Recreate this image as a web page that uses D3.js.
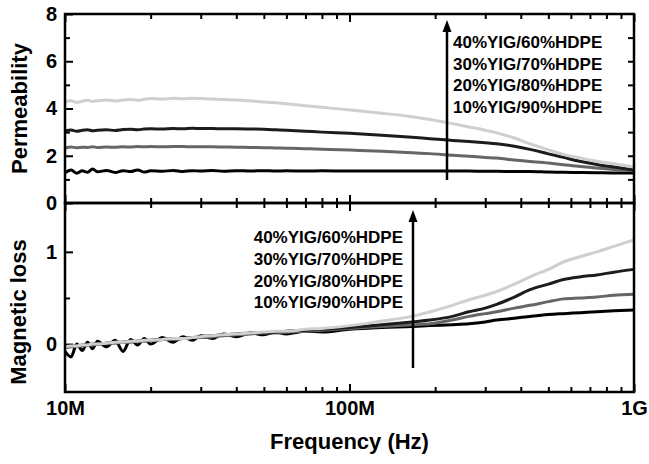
<!DOCTYPE html>
<html>
<head>
<meta charset="utf-8">
<script src="https://cdn.jsdelivr.net/npm/d3@7"></script>
<style>
  body { margin: 0; background: #fff; }
  text { font-family: "Liberation Sans", Arial, sans-serif; font-weight: bold; fill: #000; }
</style>
</head>
<body>
<script>
// frequency grid in MHz (shared by all curves)
const freqMHz = [10,10.5,11,11.5,12,12.5,13,14,15,16, 17,18,19,20,22,24,26,28,30,33,
  36,40,45,50,55,60,70,80,100,130, 166,192,230,263,300,329,380,431,500,565,
  650,740,850,1000];

// permeability (real part)
const mu40 = [4.28,4.33,4.26,4.31,4.35,4.30,4.33,4.36,4.32,4.36, 4.38,4.35,4.39,4.42,4.40,4.43,4.41,4.43,4.42,4.40,
  4.38,4.36,4.32,4.28,4.24,4.20,4.12,4.05,3.94,3.80, 3.65,3.53,3.36,3.22,3.08,2.97,2.75,2.50,2.25,2.06,
  1.90,1.77,1.66,1.52];
const mu30 = [3.05,3.09,3.04,3.08,3.10,3.06,3.08,3.10,3.07,3.11, 3.12,3.10,3.13,3.14,3.13,3.15,3.14,3.16,3.15,3.15,
  3.14,3.14,3.13,3.12,3.10,3.08,3.04,3.00,2.95,2.87, 2.78,2.72,2.65,2.60,2.55,2.51,2.40,2.27,2.08,1.93,
  1.76,1.63,1.52,1.40];
const mu20 = [2.33,2.37,2.34,2.36,2.35,2.38,2.35,2.37,2.36,2.38, 2.37,2.39,2.38,2.39,2.38,2.39,2.39,2.38,2.38,2.38,
  2.37,2.36,2.35,2.34,2.33,2.32,2.30,2.28,2.24,2.19, 2.13,2.09,2.02,1.98,1.93,1.90,1.82,1.76,1.69,1.62,
  1.54,1.48,1.42,1.36];
const mu10 = [1.28,1.40,1.26,1.36,1.30,1.44,1.32,1.38,1.29,1.37, 1.33,1.40,1.31,1.36,1.34,1.38,1.33,1.37,1.35,1.38,
  1.34,1.37,1.35,1.37,1.35,1.36,1.35,1.36,1.35,1.35, 1.35,1.35,1.35,1.35,1.34,1.34,1.33,1.33,1.31,1.30,
  1.29,1.28,1.27,1.27];

// magnetic loss
const loss40 = [-0.03,-0.02,-0.02,-0.01,-0.01,0.00,0.00,0.01,0.02,0.02, 0.03,0.03,0.04,0.04,0.05,0.06,0.06,0.07,0.08,0.09,
  0.10,0.11,0.12,0.13,0.14,0.14,0.16,0.17,0.20,0.25, 0.30,0.35,0.42,0.48,0.53,0.57,0.65,0.73,0.81,0.89,
  0.95,1.00,1.06,1.13];
const loss30 = [-0.03,-0.02,-0.02,-0.01,-0.01,0.00,0.00,0.01,0.02,0.02, 0.03,0.03,0.04,0.04,0.05,0.06,0.06,0.07,0.08,0.09,
  0.10,0.11,0.12,0.12,0.13,0.14,0.15,0.16,0.18,0.21, 0.24,0.26,0.30,0.35,0.39,0.43,0.51,0.59,0.65,0.70,
  0.73,0.75,0.78,0.81];
const loss20 = [-0.04,-0.03,-0.02,-0.02,-0.01,-0.01,0.00,0.01,0.01,0.02, 0.02,0.03,0.03,0.04,0.05,0.05,0.06,0.07,0.07,0.08,
  0.09,0.10,0.11,0.12,0.12,0.13,0.14,0.15,0.17,0.19, 0.21,0.22,0.26,0.30,0.33,0.35,0.39,0.42,0.46,0.49,
  0.50,0.51,0.53,0.54];
const loss10 = [-0.08,-0.14,0.00,-0.07,0.02,-0.05,0.03,-0.03,0.04,-0.08, 0.05,-0.01,0.06,0.00,0.07,0.02,0.08,0.04,0.09,0.06,
  0.11,0.08,0.12,0.10,0.13,0.11,0.14,0.13,0.16,0.18, 0.19,0.20,0.21,0.22,0.24,0.26,0.28,0.30,0.32,0.33,
  0.34,0.35,0.36,0.37];

const labels = ["40%YIG/60%HDPE", "30%YIG/70%HDPE", "20%YIG/80%HDPE", "10%YIG/90%HDPE"];
const xMajor = [1e7, 1e8, 1e9];
const xTickNames = ["10M", "100M", "1G"];

const W = 649, H = 464;
const plotL = 65, plotR = 634, plotT = 14, plotM = 203, plotB = 392;

const svg = d3.select("body").append("svg")
  .attr("width", W).attr("height", H);

const x = d3.scaleLog().domain([1e7, 1e9]).range([plotL, plotR]);
const yTop = d3.scaleLinear().domain([0, 8]).range([plotM, plotT]);
const yBot = d3.scaleLinear().domain([-0.52, 1.53]).range([plotB, plotM]);

const xMinor = [];
[1e7, 1e8].forEach(d => { for (let k = 2; k <= 9; k++) xMinor.push(d * k); });

function styleAxis(g) {
  g.select(".domain").remove();
  g.selectAll(".tick line").attr("stroke", "#000").attr("stroke-width", 2);
  g.selectAll(".tick text").style("font-size", "20px").attr("fill", "#000");
}

// x ticks (inward) on each horizontal edge
function xTicks(y, dir, withLabels) {
  const mk = dir > 0 ? d3.axisBottom : d3.axisTop;
  svg.append("g").attr("transform", `translate(0,${y})`)
    .call(mk(x).tickValues(xMajor).tickSize(-8).tickPadding(9)
      .tickFormat((d, i) => withLabels ? xTickNames[i] : ""))
    .call(styleAxis);
  svg.append("g").attr("transform", `translate(0,${y})`)
    .call(mk(x).tickValues(xMinor).tickSize(-5).tickFormat(""))
    .call(styleAxis);
}
xTicks(plotT, -1, false);
xTicks(plotM, 1, false);
xTicks(plotM, -1, false);
xTicks(plotB, 1, true);

// y ticks
svg.append("g").attr("transform", `translate(${plotL},0)`)
  .call(d3.axisLeft(yTop).tickValues([0, 2, 4, 6, 8]).tickSize(-8).tickPadding(8).tickFormat(d3.format("d")))
  .call(styleAxis);
svg.append("g").attr("transform", `translate(${plotL},0)`)
  .call(d3.axisLeft(yTop).tickValues([1, 3, 5, 7]).tickSize(-5).tickFormat(""))
  .call(styleAxis);
svg.append("g").attr("transform", `translate(${plotR},0)`)
  .call(d3.axisRight(yTop).tickValues([1, 2, 3, 4, 5, 6, 7]).tickSize(-6).tickFormat(""))
  .call(styleAxis);
svg.append("g").attr("transform", `translate(${plotL},0)`)
  .call(d3.axisLeft(yBot).tickValues([0, 1]).tickSize(-8).tickPadding(8).tickFormat(d3.format("d")))
  .call(styleAxis);
svg.append("g").attr("transform", `translate(${plotL},0)`)
  .call(d3.axisLeft(yBot).tickValues([0.5]).tickSize(-5).tickFormat(""))
  .call(styleAxis);

// curves
const colors = { s40: "#cfcfcf", s30: "#1c1c1c", s20: "#666666", s10: "#000000" };

function drawSet(yScale, series) {
  const line = d3.line()
    .x((d, i) => x(freqMHz[i] * 1e6))
    .y(d => yScale(d))
    .curve(d3.curveMonotoneX);
  series.forEach(s => {
    svg.append("path")
      .datum(s.values)
      .attr("fill", "none")
      .attr("stroke", s.color)
      .attr("stroke-width", 3)
      .attr("stroke-linejoin", "round")
      .attr("d", line);
  });
}
drawSet(yTop, [
  { values: mu10, color: colors.s10 },
  { values: mu20, color: colors.s20 },
  { values: mu30, color: colors.s30 },
  { values: mu40, color: colors.s40 }
]);
drawSet(yBot, [
  { values: loss10, color: colors.s10 },
  { values: loss20, color: colors.s20 },
  { values: loss30, color: colors.s30 },
  { values: loss40, color: colors.s40 }
]);

// panel frames
[[plotT, plotM], [plotM, plotB]].forEach(([a, b]) => {
  svg.append("rect")
    .attr("x", plotL).attr("y", a)
    .attr("width", plotR - plotL).attr("height", b - a)
    .attr("fill", "none").attr("stroke", "#000").attr("stroke-width", 2.5);
});

// arrows + legend text
function arrow(ax, y0, y1) {
  svg.append("line")
    .attr("x1", ax).attr("x2", ax).attr("y1", y0).attr("y2", y1 + 8)
    .attr("stroke", "#000").attr("stroke-width", 2.5);
  svg.append("path")
    .attr("d", `M${ax},${y1} L${ax - 4.5},${y1 + 12} L${ax + 4.5},${y1 + 12} Z`)
    .attr("fill", "#000");
}
arrow(447, 180, 20);
arrow(413, 368, 210);

svg.append("g").selectAll("text").data(labels).join("text")
  .attr("x", 453).attr("y", (d, i) => 48 + i * 21.7)
  .style("font-size", "17px")
  .text(d => d);
svg.append("g").selectAll("text").data(labels).join("text")
  .attr("x", 403).attr("y", (d, i) => 243 + i * 21.8)
  .attr("text-anchor", "end")
  .style("font-size", "17px")
  .text(d => d);

// axis titles
svg.append("text")
  .attr("transform", `translate(27,${(plotT + plotM) / 2}) rotate(-90)`)
  .attr("text-anchor", "middle")
  .style("font-size", "22px")
  .text("Permeability");
svg.append("text")
  .attr("transform", `translate(26,312) rotate(-90)`)
  .attr("text-anchor", "middle")
  .style("font-size", "22px")
  .text("Magnetic loss");
svg.append("text")
  .attr("x", (plotL + plotR) / 2).attr("y", 449)
  .attr("text-anchor", "middle")
  .style("font-size", "22px")
  .text("Frequency (Hz)");
</script>
</body>
</html>
